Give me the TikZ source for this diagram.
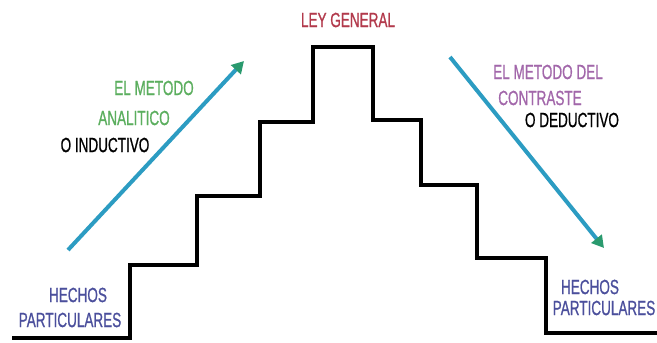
\documentclass[tikz,border=0pt]{standalone}
\usepackage{fontspec}
\setmainfont[FakeStretch=0.66,FakeBold=0.8]{Liberation Sans}
\usetikzlibrary{arrows.meta}
\definecolor{leyred}{HTML}{B23A4C}
\definecolor{metgreen}{HTML}{5BAE5E}
\definecolor{metpurple}{HTML}{A267AA}
\definecolor{hechblue}{HTML}{4B4F9C}
\definecolor{arrteal}{HTML}{2C9CC2}
\definecolor{arrgreen}{HTML}{2A9A6E}
\tikzset{
  lbl/.style={inner sep=0pt, font=\fontsize{20.5}{22}\selectfont},
  stair/.style={line width=4pt, black, line join=miter},
  method/.style={line width=4pt, arrteal, -{Triangle[length=12pt,width=13pt,color=arrgreen,fill=arrgreen]}}
}
\begin{document}
\begin{tikzpicture}[x=1pt,y=-1pt]
\useasboundingbox (0,0) rectangle (657,343);
% staircase
\draw[stair] (12,338) -- (130,338) -- (130,265) -- (197,265) -- (197,196)
  -- (260,196) -- (260,122) -- (313,122) -- (313,47) -- (373,47) -- (373,120)
  -- (421,120) -- (421,185) -- (477,185) -- (477,258) -- (546,258) -- (546,333) -- (657,333);
% arrows
\coordinate (up1) at (68,250);
\coordinate (up2) at (244,61);
\coordinate (dn1) at (450,57);
\coordinate (dn2) at (604,248);
\draw[method] (up1) -- (up2);
\draw[method] (dn1) -- (dn2);
% labels
\node[lbl, text=leyred] (ley) at (348,20) {LEY GENERAL};
\node[lbl, text=metgreen] (m1) at (154,88) {EL METODO};
\node[lbl, text=metgreen] (m2) at (134,118) {ANALITICO};
\node[lbl, text=black] (m3) at (105,145) {O INDUCTIVO};
\node[lbl, text=hechblue] (h1) at (78,295) {HECHOS};
\node[lbl, text=hechblue] (h2) at (70,320) {PARTICULARES};
\node[lbl, text=metpurple] (d1) at (548,72) {EL METODO DEL};
\node[lbl, text=metpurple] (d2) at (540,98) {CONTRASTE};
\node[lbl, text=black] (d3) at (572,120) {O DEDUCTIVO};
\node[lbl, text=hechblue] (h3) at (590,287) {HECHOS};
\node[lbl, text=hechblue] (h4) at (604,308) {PARTICULARES};
\end{tikzpicture}
\end{document}
